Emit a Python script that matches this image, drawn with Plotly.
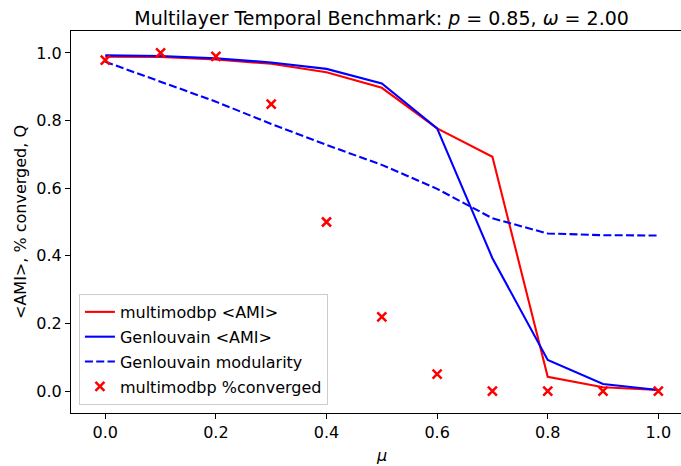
import plotly.graph_objects as go

mu = [0.0, 0.1, 0.2, 0.3, 0.4, 0.5, 0.6, 0.7, 0.8, 0.9, 1.0]
multimodbp_ami = [0.989, 0.988, 0.981, 0.968, 0.943, 0.897, 0.777, 0.693, 0.042, 0.011, 0.003]
genlouvain_ami = [0.993, 0.991, 0.984, 0.972, 0.953, 0.910, 0.777, 0.393, 0.092, 0.021, 0.003]
genlouvain_mod = [0.974, 0.915, 0.856, 0.790, 0.728, 0.669, 0.598, 0.511, 0.466, 0.461, 0.460]
multimodbp_conv = [0.979, 1.0, 0.99, 0.849, 0.5, 0.219, 0.05, 0.0, 0.0, 0.0, 0.0]

x_ticks = [0.0, 0.2, 0.4, 0.6, 0.8, 1.0]
y_ticks = [0.0, 0.2, 0.4, 0.6, 0.8, 1.0]

FONT = "DejaVu Sans"
FS = 16
W, H = 681, 466
ML, MR, MT, MB = 71, 0, 31, 53

fig = go.Figure()
fig.add_trace(go.Scatter(x=mu, y=multimodbp_ami, mode="lines", name="multimodbp &lt;AMI&gt;",
                         line=dict(color="#ff0000", width=2.1), legendgroup="a"))
fig.add_trace(go.Scatter(x=mu, y=genlouvain_ami, mode="lines", name="Genlouvain &lt;AMI&gt;",
                         line=dict(color="#0000ff", width=2.1), legendgroup="b"))
fig.add_trace(go.Scatter(x=mu, y=genlouvain_mod, mode="lines", name="Genlouvain modularity",
                         line=dict(color="#0000ff", width=2.1, dash="8px,3.3px"), legendgroup="c"))
fig.add_trace(go.Scatter(x=mu, y=multimodbp_conv, mode="markers", name="multimodbp %converged",
                         marker=dict(symbol="x-thin", size=9, color="#ff0000",
                                     line=dict(color="#ff0000", width=2.5)), legendgroup="d"))

fig.update_layout(
    width=W, height=H,
    margin=dict(l=ML, r=MR, t=MT, b=MB, pad=0),
    paper_bgcolor="white", plot_bgcolor="white",
    font=dict(family=FONT, size=FS, color="black"),
    showlegend=True,
    title=dict(text="Multilayer Temporal Benchmark: <i>p</i> = 0.85, <i>ω</i> = 2.00",
               font=dict(family=FONT, size=19, color="black"),
               x=(381.6) / W, xanchor="center", xref="container",
               y=1 - 18 / H, yanchor="middle", yref="container"),
    legend=dict(x=0.013, y=0.021, xanchor="left", yanchor="bottom",
                bgcolor="rgba(255,255,255,0.8)", bordercolor="#cccccc", borderwidth=1,
                font=dict(family=FONT, size=FS, color="black"),
                tracegroupgap=1),
    xaxis=dict(range=[-0.062, 1.041], tickvals=x_ticks, tickformat=".1f",
               showgrid=False, zeroline=False, showline=True, linecolor="black", linewidth=1.1,
               mirror=True, ticks="outside", ticklen=5, tickwidth=1.1, tickcolor="black",
               tickfont=dict(family=FONT, size=FS, color="black")),
    yaxis=dict(range=[-0.065, 1.065], tickvals=y_ticks, tickformat=".1f",
               showgrid=False, zeroline=False, showline=True, linecolor="black", linewidth=1.1,
               mirror=False, ticks="outside", ticklen=5, tickwidth=1.1, tickcolor="black",
               tickfont=dict(family=FONT, size=FS, color="black")),
)

fig.add_annotation(text="<i>μ</i>", xref="paper", yref="paper",
                   x=(381.7 - ML) / (W - ML - MR), y=-(455 - (H - MB)) / (H - MT - MB),
                   xanchor="center", yanchor="middle", showarrow=False,
                   font=dict(family=FONT, size=FS, color="black"))
fig.add_annotation(text="&lt;AMI&gt;, % converged, Q", xref="paper", yref="paper",
                   x=-(ML - 20) / (W - ML - MR), y=0.5, textangle=-90,
                   xanchor="center", yanchor="middle", showarrow=False,
                   font=dict(family=FONT, size=FS, color="black"))

fig.write_html("out.html")
